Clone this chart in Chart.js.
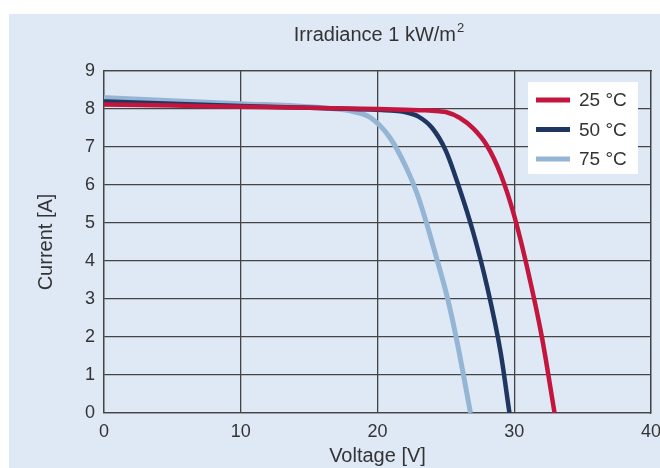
<!DOCTYPE html>
<html>
<head>
<meta charset="utf-8">
<script src="https://cdn.jsdelivr.net/npm/chart.js@4"></script>
<style>
  html, body { margin: 0; padding: 0; background: #ffffff; }
  canvas { display: block; }
</style>
</head>
<body>
<canvas id="ivChart" width="660" height="468"></canvas>
<script>
// I-V curves (voltage in V, current in A)
const seriesLabels = ["25 °C", "50 °C", "75 °C"];
const seriesColors = ["#c3163f", "#1f3661", "#95b5d5"];

const voltage25 = [0, 5, 10, 15, 20, 22, 23.5, 24.5, 25, 26, 27, 28, 29, 30, 31, 32, 32.95];
const current25 = [8.12, 8.09, 8.06, 8.03, 8.0, 7.98, 7.965, 7.94, 7.92, 7.77, 7.49, 7.04, 6.29, 5.19, 3.74, 2.04, 0];

const voltage50 = [0, 5, 10, 15, 20, 21, 22, 23, 24, 25, 26, 27, 28, 29, 29.65];
const current50 = [8.2, 8.14, 8.08, 8.03, 7.98, 7.96, 7.92, 7.8, 7.5, 6.9, 5.9, 4.75, 3.35, 1.6, 0];

const voltage75 = [0, 5, 10, 15, 17, 18, 19.5, 20.9, 22.1, 22.9, 23.6, 24.3, 25.1, 25.8, 26.4, 26.8];
const current75 = [8.3, 8.22, 8.14, 8.06, 8.0, 7.95, 7.77, 7.25, 6.46, 5.77, 4.98, 4.1, 3.05, 1.91, 0.78, 0];

const xTicks = [0, 10, 20, 30, 40];
const yTicks = [0, 1, 2, 3, 4, 5, 6, 7, 8, 9];

const titleText = "Irradiance 1 kW/m";
const titleSup = "2";
const xTitle = "Voltage [V]";
const yTitle = "Current [A]";

const FONT = "'Liberation Sans', Arial, sans-serif";
const TEXT = "#333333";
const GRID = "#444444";

function toPoints(vs, is) {
    return vs.map((v, i) => ({ x: v, y: is[i] }));
}

// light blue panel behind everything
const panelBg = {
    id: "panelBg",
    beforeDraw(chart) {
        const ctx = chart.ctx;
        ctx.save();
        ctx.fillStyle = "#ffffff";
        ctx.fillRect(0, 0, chart.width, chart.height);
        ctx.fillStyle = "#dfe9f6";
        ctx.fillRect(9, 14, chart.width - 9, chart.height - 14);
        ctx.restore();
    }
};

// title, axis titles and the boxed legend
const decorations = {
    id: "decorations",
    afterDraw(chart) {
        const ctx = chart.ctx;
        const area = chart.chartArea;
        const midX = (area.left + area.right) / 2;
        ctx.save();
        ctx.fillStyle = TEXT;

        // title with superscript
        ctx.font = "20px " + FONT;
        const mainW = ctx.measureText(titleText).width;
        ctx.font = "13px " + FONT;
        const supW = ctx.measureText(titleSup).width;
        const startX = midX + 1 - (mainW + supW) / 2;
        ctx.textBaseline = "alphabetic";
        ctx.textAlign = "left";
        ctx.font = "20px " + FONT;
        ctx.fillText(titleText, startX, 41);
        ctx.font = "13px " + FONT;
        ctx.fillText(titleSup, startX + mainW + 1, 32);

        // axis titles
        ctx.font = "20px " + FONT;
        ctx.textAlign = "center";
        ctx.textBaseline = "middle";
        ctx.fillText(xTitle, midX, 456);
        ctx.save();
        ctx.translate(46, (area.top + area.bottom) / 2);
        ctx.rotate(-Math.PI / 2);
        ctx.fillText(yTitle, 0, 0);
        ctx.restore();

        // legend
        ctx.fillStyle = "#ffffff";
        ctx.fillRect(528, 82, 110, 92);
        ctx.font = "19px " + FONT;
        ctx.textAlign = "left";
        chart.data.datasets.forEach((ds, i) => {
            const y = 100 + i * 29.5;
            ctx.strokeStyle = ds.borderColor;
            ctx.lineWidth = 5;
            ctx.beginPath();
            ctx.moveTo(536, y);
            ctx.lineTo(570, y);
            ctx.stroke();
            ctx.fillStyle = TEXT;
            ctx.fillText(ds.label, 579, y + 1);
        });
        ctx.restore();
    }
};

new Chart(document.getElementById("ivChart"), {
    type: "line",
    data: {
        datasets: [
            { label: seriesLabels[0], data: toPoints(voltage25, current25), borderColor: seriesColors[0] },
            { label: seriesLabels[1], data: toPoints(voltage50, current50), borderColor: seriesColors[1] },
            { label: seriesLabels[2], data: toPoints(voltage75, current75), borderColor: seriesColors[2], borderWidth: 5 }
        ]
    },
    options: {
        responsive: false,
        animation: false,
        events: [],
        layout: { padding: { top: 71, right: 9, left: 0, bottom: 0 } },
        elements: {
            line: { borderWidth: 4.5, cubicInterpolationMode: "monotone", fill: false },
            point: { radius: 0 }
        },
        plugins: { legend: { display: false }, tooltip: { enabled: false }, title: { display: false } },
        scales: {
            x: {
                type: "linear",
                min: 0, max: 40,
                afterBuildTicks: s => { s.ticks = xTicks.map(v => ({ value: v })); },
                afterFit: s => { s.height = 55; s.paddingLeft = 0; s.paddingRight = 0; },
                grid: { color: GRID, lineWidth: 1.3, drawTicks: false },
                border: { color: GRID, width: 1.3 },
                ticks: { color: TEXT, font: { family: FONT, size: 18 }, padding: 8, maxRotation: 0 }
            },
            y: {
                type: "linear",
                min: 0, max: 9,
                afterBuildTicks: s => { s.ticks = yTicks.map(v => ({ value: v })); },
                afterFit: s => { s.width = 104; },
                grid: { color: GRID, lineWidth: 1.3, drawTicks: false },
                border: { color: GRID, width: 1.3 },
                ticks: { color: TEXT, font: { family: FONT, size: 18 }, padding: 9 }
            },
            x2: {
                type: "linear", position: "top", min: 0, max: 40, display: true,
                afterFit: s => { s.height = 0; s.paddingLeft = 0; s.paddingRight = 0; },
                grid: { display: false, drawTicks: false },
                border: { color: GRID, width: 1.3 },
                ticks: { display: false }
            },
            y2: {
                type: "linear", position: "right", min: 0, max: 9, display: true,
                afterFit: s => { s.width = 0; },
                grid: { display: false, drawTicks: false },
                border: { color: GRID, width: 1.3 },
                ticks: { display: false }
            }
        }
    },
    plugins: [panelBg, decorations]
});
</script>
</body>
</html>
